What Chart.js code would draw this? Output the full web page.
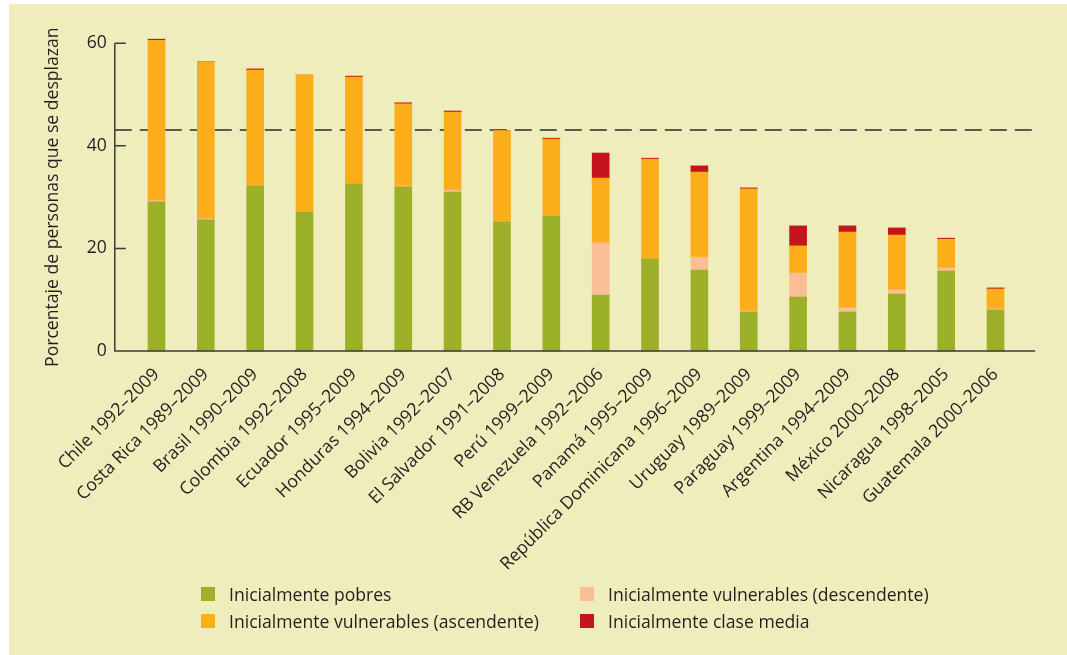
<!DOCTYPE html>
<html>
<head>
<meta charset="utf-8">
<script src="https://cdn.jsdelivr.net/npm/chart.js@4"></script>
<style>
  body { margin: 0; background: #fff; font-family: "Open Sans", sans-serif; }
  #marco { position: absolute; left: 9px; top: 4px; width: 1058px; height: 651px; background: #efedbc; }
  #grafica { position: absolute; left: 0; top: 0; }
  #leyenda { position: absolute; left: 192px; top: 576px; display: grid; grid-template-columns: 379px 379px; color: #231f20; font-size: 17.6px; }
  .item { display: flex; align-items: center; height: 27px; }
  .caja { width: 14px; height: 14px; margin-right: 14px; }
</style>
</head>
<body>
<div id="marco">
  <canvas id="grafica" width="1058" height="651"></canvas>
  <div id="leyenda"></div>
</div>
<script>
// datos
const paises = ['Chile 1992–2009', 'Costa Rica 1989–2009', 'Brasil 1990–2009', 'Colombia 1992–2008',
  'Ecuador 1995–2009', 'Honduras 1994–2009', 'Bolivia 1992–2007', 'El Salvador 1991–2008',
  'Perú 1999–2009', 'RB Venezuela 1992–2006', 'Panamá 1995–2009', 'República Dominicana 1996–2009',
  'Uruguay 1989–2009', 'Paraguay 1999–2009', 'Argentina 1994–2009', 'México 2000–2008',
  'Nicaragua 1998–2005', 'Guatemala 2000–2006'];

const pobres = [29.1, 25.6, 32.2, 27.1, 32.6, 32.0, 31.0, 25.2, 26.3, 10.9, 17.9, 15.8, 7.6, 10.5, 7.6, 11.1, 15.6, 8.0];
const vulnDesc = [0.2, 0.2, 0, 0, 0, 0.2, 0.4, 0, 0, 10.2, 0, 2.5, 0.2, 4.7, 0.8, 0.8, 0.6, 0.2];
const vulnAsc = [31.3, 30.6, 22.6, 26.7, 20.8, 16.0, 15.2, 17.8, 15.0, 12.6, 19.5, 16.6, 23.8, 5.3, 14.8, 10.7, 5.6, 3.9];
const claseMedia = [0.2, 0, 0.2, 0, 0.2, 0.2, 0.2, 0, 0.2, 4.9, 0.2, 1.2, 0.2, 3.9, 1.2, 1.4, 0.2, 0.2];

const ticksY = [0, 20, 40, 60];
const promedio = 43.1; // linea discontinua
const tituloY = 'Porcentaje de personas que se desplazan';

const colorTexto = '#231f20';
const fuente = { family: '"Open Sans", sans-serif', size: 17.6 };

// ejes y linea discontinua dibujados a mano
const ejes = {
  id: 'ejes',
  beforeDatasetsDraw(chart) {
    const ctx = chart.ctx;
    const y = chart.scales.y;
    const xi = chart.chartArea.left - 17;
    const xf = chart.chartArea.right + 15;
    const py = y.getPixelForValue(promedio);
    ctx.save();
    ctx.strokeStyle = '#2b2b2b';
    ctx.lineWidth = 1.4;
    ctx.setLineDash([17, 8]);
    ctx.beginPath();
    ctx.moveTo(xi, py);
    ctx.lineTo(xf, py);
    ctx.stroke();
    ctx.restore();
  },
  afterDatasetsDraw(chart) {
    const ctx = chart.ctx;
    const y = chart.scales.y;
    const xi = chart.chartArea.left - 17;
    const xf = chart.chartArea.right + 15;
    const y0 = y.getPixelForValue(0);
    ctx.save();
    ctx.strokeStyle = '#3a3a3a';
    ctx.lineWidth = 1.5;
    ctx.beginPath();
    ctx.moveTo(xi, y.getPixelForValue(ticksY[ticksY.length - 1]));
    ctx.lineTo(xi, y0);
    ctx.lineTo(xf, y0);
    for (let i = 1; i < ticksY.length; i++) {
      const p = y.getPixelForValue(ticksY[i]);
      ctx.moveTo(xi, p);
      ctx.lineTo(xi + 11, p);
    }
    ctx.stroke();
    ctx.restore();
  }
};

const chart = new Chart(document.getElementById('grafica'), {
  type: 'bar',
  data: {
    labels: paises,
    datasets: [
      { label: 'Inicialmente pobres', data: pobres, backgroundColor: '#9cb029' },
      { label: 'Inicialmente vulnerables (descendente)', data: vulnDesc, backgroundColor: '#fabe96' },
      { label: 'Inicialmente vulnerables (ascendente)', data: vulnAsc, backgroundColor: '#fbae19' },
      { label: 'Inicialmente clase media', data: claseMedia, backgroundColor: '#c4141c' }
    ]
  },
  options: {
    responsive: false,
    devicePixelRatio: 1,
    animation: false,
    layout: { padding: { left: 0, right: 46.8, top: 39.3, bottom: 0 } },
    datasets: { bar: { barThickness: 17, borderWidth: 0, clip: false } },
    plugins: { legend: { display: false }, tooltip: { enabled: false } },
    scales: {
      x: {
        stacked: true,
        grid: { display: false, drawTicks: false },
        border: { display: false },
        afterFit: s => { s.height = 304; },
        ticks: { autoSkip: false, maxRotation: 45, minRotation: 45, padding: 13, font: fuente, color: colorTexto }
      },
      y: {
        stacked: true,
        min: 0,
        max: 60,
        afterBuildTicks: s => { s.ticks = ticksY.map(v => ({ value: v })); },
        afterFit: s => { s.width = 122.8; },
        grid: { display: false, drawTicks: false },
        border: { display: false },
        ticks: { padding: 25, font: fuente, color: colorTexto },
        title: { display: true, text: tituloY, font: fuente, color: colorTexto, padding: { top: 33 } }
      }
    }
  },
  plugins: [ejes]
});

// leyenda en dos columnas
const leyenda = document.getElementById('leyenda');
chart.data.datasets.forEach(ds => {
  const item = document.createElement('div');
  item.className = 'item';
  item.innerHTML = '<span class="caja" style="background:' + ds.backgroundColor + '"></span><span>' + ds.label + '</span>';
  leyenda.appendChild(item);
});
</script>
</body>
</html>
